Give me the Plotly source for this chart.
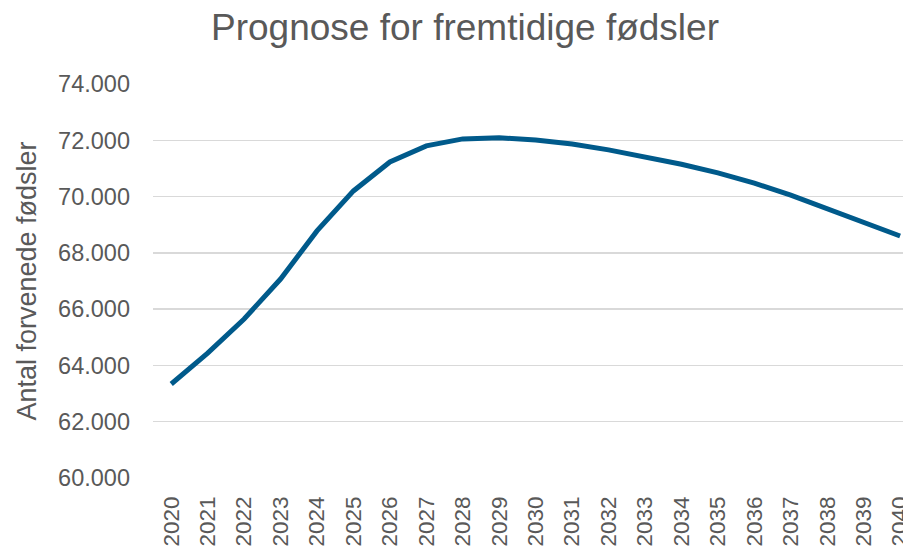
import plotly.graph_objects as go

years = [str(y) for y in range(2020, 2041)]
births = [63340, 64440, 65650, 67070, 68780, 70200, 71230, 71800, 72050, 72090,
          72010, 71870, 71660, 71400, 71150, 70840, 70480, 70050, 69570, 69110, 68600]

y_ticks = [60000, 62000, 64000, 66000, 68000, 70000, 72000, 74000]
y_labels = ["60.000", "62.000", "64.000", "66.000", "68.000", "70.000", "72.000", "74.000"]

FONT = "Liberation Sans, Arial, sans-serif"
GREY = "#595959"

fig = go.Figure()
fig.add_trace(go.Scatter(
    x=list(range(len(years))), y=births, mode="lines",
    line=dict(color="#005A8B", width=5),
    hoverinfo="skip",
))

fig.update_layout(
    width=903, height=547,
    margin=dict(l=153, r=0, t=84, b=69),
    paper_bgcolor="white", plot_bgcolor="white",
    showlegend=False,
    font=dict(family=FONT, color=GREY),
    title=dict(text="Prognose for fremtidige fødsler",
               font=dict(family=FONT, size=37, color=GREY),
               x=465 / 903, xref="container", xanchor="center",
               y=1 - 27 / 547, yref="container", yanchor="middle"),
)

fig.update_xaxes(
    range=[-0.5, 20.08],
    tickmode="array", tickvals=list(range(len(years))), ticktext=years,
    tickangle=-90, tickfont=dict(size=22.5, color=GREY, family=FONT),
    showgrid=False, zeroline=False, showline=False,
    ticks="", ticklabelstandoff=13, automargin=False,
    ticklabeloverflow="allow",
)
fig.update_yaxes(
    range=[60000, 74000],
    tickmode="array", tickvals=y_ticks, ticktext=y_labels,
    tickfont=dict(size=23.5, color=GREY, family=FONT),
    showgrid=True, gridcolor="#D9D9D9", gridwidth=1.5,
    zeroline=False, showline=False, ticks="", ticklabelstandoff=22,
    title=dict(text="Antal forvenede fødsler", font=dict(size=27, color=GREY, family=FONT), standoff=13),
    automargin=False,
)

fig.write_html(
    "out.html",
    config={"displayModeBar": False, "staticPlot": True},
    post_script="document.body.style.margin='0';document.body.style.overflow='hidden';",
)
